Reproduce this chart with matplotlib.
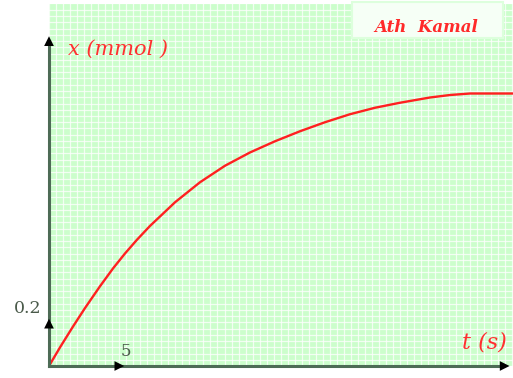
import numpy as np
import matplotlib.pyplot as plt
from matplotlib.patches import Rectangle

# values
t_s = [0, 0.71, 1.54, 2.31, 3.27, 4.10, 4.87, 5.64, 6.47, 8.08, 9.68, 11.28,
       12.88, 14.49, 16.09, 17.69, 19.29, 20.90, 22.50, 24.42, 25.71, 26.99, 29.74]
x_mmol = [0, 0.075, 0.158, 0.232, 0.319, 0.390, 0.450, 0.505, 0.560, 0.655, 0.735, 0.801,
          0.854, 0.899, 0.939, 0.975, 1.007, 1.033, 1.053, 1.074, 1.084, 1.090, 1.090]

xlabel = "t (s)"
ylabel = "x (mmol )"
author = "Ath  Kamal"
xtick_unit = 5
ytick_unit = 0.2

W, H = 513, 378
fig = plt.figure(figsize=(W / 100, H / 100), dpi=100)
ax = fig.add_axes([49 / W, 12 / H, 464 / W, 362 / H])
ax.set_xlim(0, 464 / 15.6)
ax.set_ylim(0, 362 / 250)
ax.set_facecolor("#ccfecc")
for s in ax.spines.values():
    s.set_visible(False)
ax.set_xticks([])
ax.set_yticks([])

# graph paper
for gx in np.arange(0, 30, 0.45):
    ax.axvline(gx, color="white", lw=0.9, alpha=0.75, zorder=1)
for gy in np.arange(0, 1.5, 0.025):
    ax.axhline(gy, color="white", lw=0.9, alpha=0.75, zorder=1)

ax.plot(t_s, x_mmol, color="#ff2020", lw=1.7, zorder=3, solid_joinstyle="round")

# axes with arrows
axis_col = "#4d6b55"
arrow = dict(arrowstyle="-|>,head_length=0.7,head_width=0.35", color="black", lw=0)
ax.plot([0, 29.0], [0, 0], color=axis_col, lw=2.2, clip_on=False, zorder=4)
ax.plot([0, 0], [0, 1.30], color=axis_col, lw=2.2, clip_on=False, zorder=4)
ax.annotate("", xy=(29.7, 0), xytext=(28.6, 0), annotation_clip=False,
            arrowprops=arrow, zorder=5)
ax.annotate("", xy=(0, 1.33), xytext=(0, 1.27), annotation_clip=False,
            arrowprops=arrow, zorder=5)
# unit vectors
ax.annotate("", xy=(xtick_unit, 0), xytext=(xtick_unit - 0.9, 0), annotation_clip=False,
            arrowprops=arrow, zorder=5)
ax.annotate("", xy=(0, ytick_unit), xytext=(0, ytick_unit - 0.06), annotation_clip=False,
            arrowprops=arrow, zorder=5)

ax.text(xtick_unit - 0.1, 0.025, str(xtick_unit), color="#4a5a4a", fontsize=12,
        family="DejaVu Serif", ha="center", va="bottom", zorder=5)
ax.text(-0.45, ytick_unit + 0.03, str(ytick_unit), color="#4a5a4a", fontsize=12.5,
        family="DejaVu Serif", ha="right", va="center", clip_on=False, zorder=5)

ax.text(1.2, 1.265, ylabel, color="#ff3030", fontsize=15, style="italic",
        family="DejaVu Serif", ha="left", va="center", zorder=5)
ax.text(29.35, 0.095, xlabel, color="#ff3030", fontsize=16, style="italic",
        family="DejaVu Serif", ha="right", va="center", zorder=5)

# author box (pixel placement from the picture)
fig.patches.append(Rectangle((352 / W, 1 - 38 / H), 151 / W, 36 / H,
                             transform=fig.transFigure, fc="#f6fff6",
                             ec="#ddffdd", lw=1.5, zorder=5))
fig.text(426 / W, 1 - 28 / H, author, color="#ff2a2a", fontsize=12,
         style="italic", weight="bold", family="DejaVu Serif",
         ha="center", va="center", zorder=6)

fig.savefig("out.png", dpi=100)
